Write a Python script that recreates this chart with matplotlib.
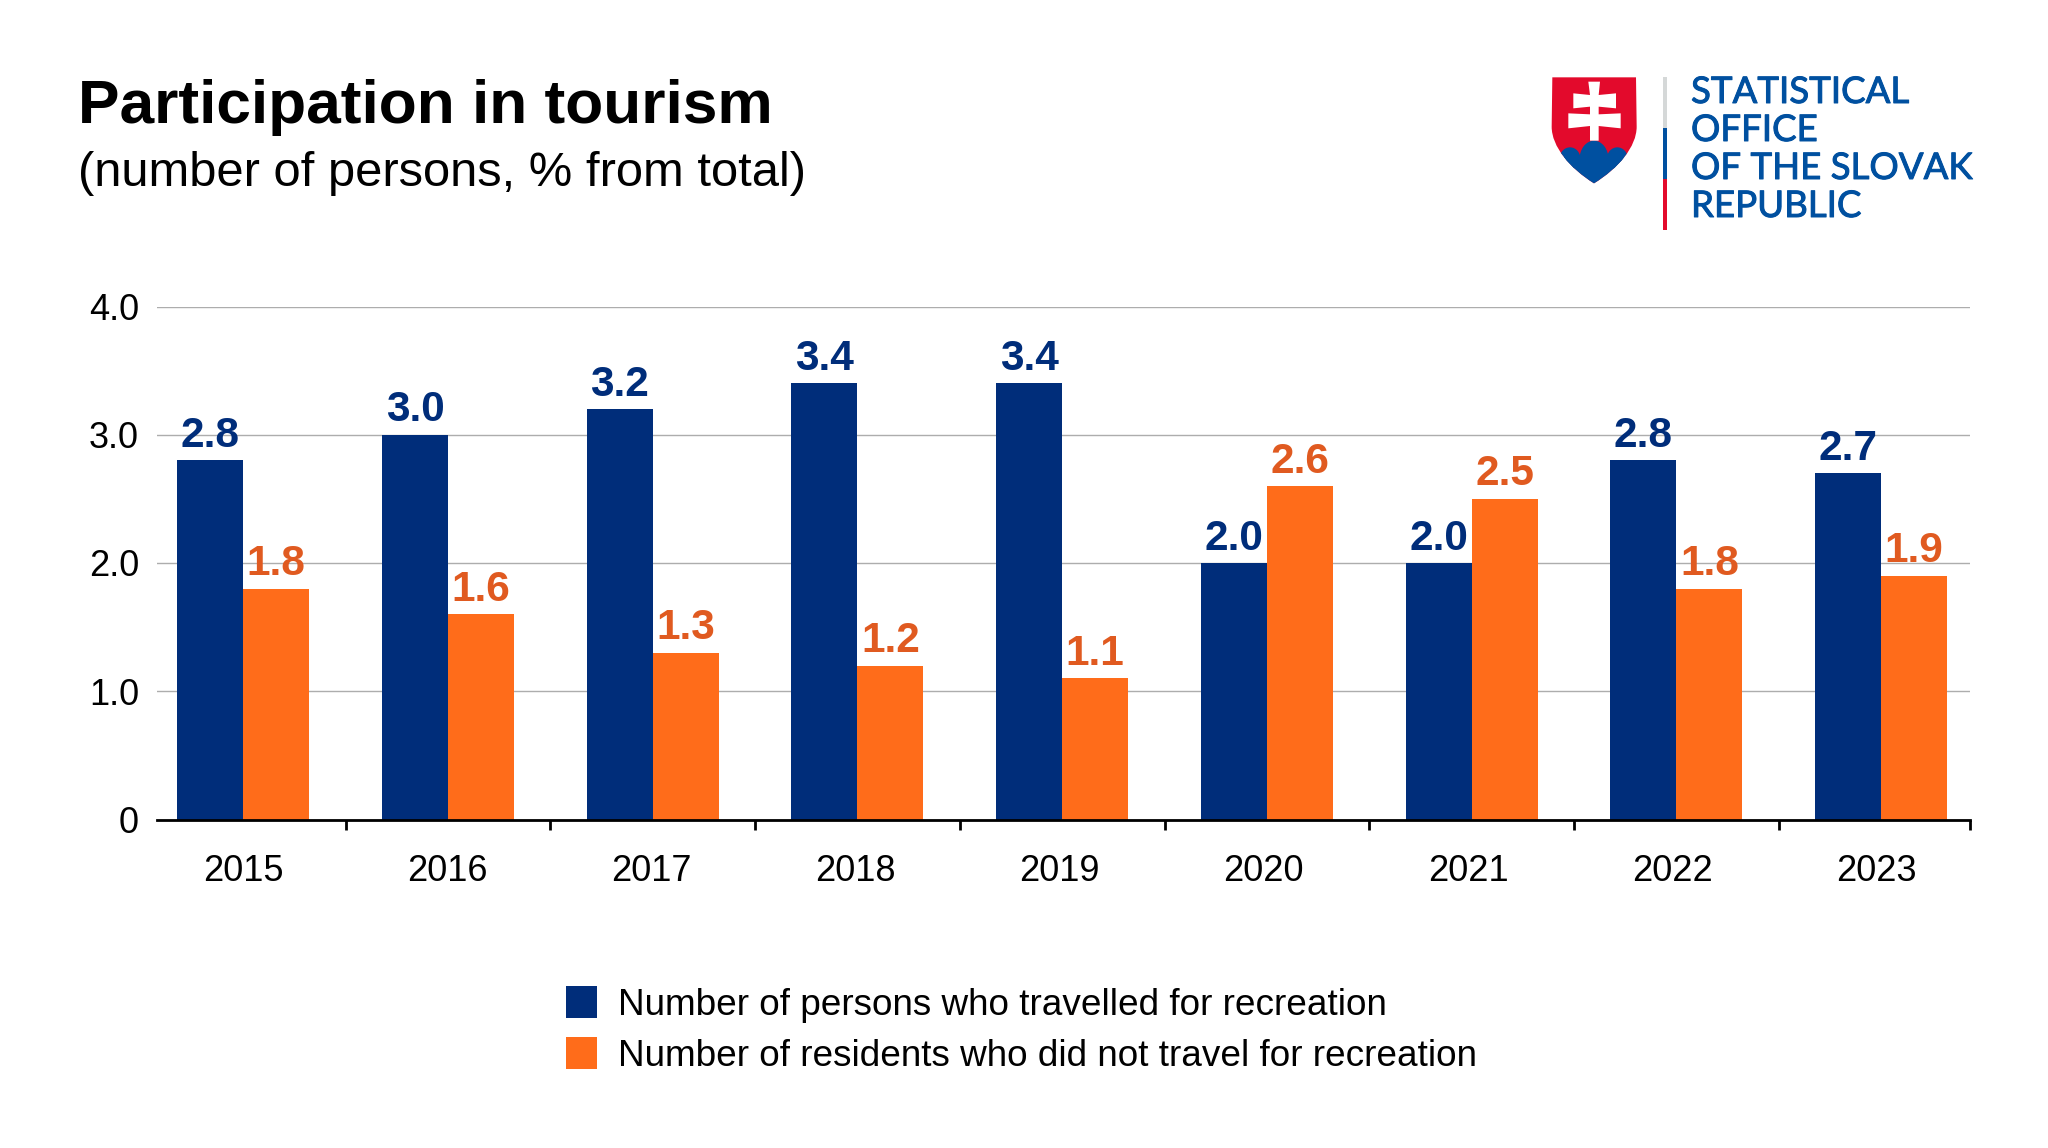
import numpy as np
import matplotlib
matplotlib.use("Agg")
import matplotlib.pyplot as plt
import matplotlib.patheffects as pe
from matplotlib.patches import Polygon, Rectangle, Ellipse, PathPatch
from matplotlib.path import Path

plt.rcParams["font.family"] = "Liberation Sans"

years = ['2015', '2016', '2017', '2018', '2019', '2020', '2021', '2022', '2023']
travelled = [2.8, 3.0, 3.2, 3.4, 3.4, 2.0, 2.0, 2.8, 2.7]
not_travelled = [1.8, 1.6, 1.3, 1.2, 1.1, 2.6, 2.5, 1.8, 1.9]
yticks = [0, 1, 2, 3, 4]
yticklabels = ['0', '1.0', '2.0', '3.0', '4.0']
label_travelled = 'Number of persons who travelled for recreation'
label_not = 'Number of residents who did not travel for recreation'
logo_lines = ['STATISTICAL', 'OFFICE', 'OF THE SLOVAK', 'REPUBLIC']

W, H = 2048, 1148
fig = plt.figure(figsize=(W / 100, H / 100), dpi=100)
ax = fig.add_axes([157 / W, 1 - 819.5 / H, (1970 - 157) / W, (819.5 - 306.5) / H])

x = np.arange(len(years))
width = 0.322
ax.bar(x - width / 2, travelled, width, color='#002d7a', label=label_travelled)
ax.bar(x + width / 2, not_travelled, width, color='#ff6c1a', label=label_not)

for i in x:
    ax.text(i - width / 2, travelled[i] + 0.035, f'{travelled[i]:.1f}', ha='center', va='bottom',
            fontsize=30.5, fontweight='bold', color='#002d7a')
    ax.text(i + width / 2, not_travelled[i] + 0.035, f'{not_travelled[i]:.1f}', ha='center', va='bottom',
            fontsize=30.5, fontweight='bold', color='#e05a20')

# the axis stops short of a full category on both ends
x_end = len(years) - 1 + 0.434
ax.set_xlim(-0.421, x_end)
ax.set_ylim(0, 4)
ax.set_yticks(yticks)
ax.set_yticklabels(yticklabels, fontsize=26)
ax.set_xticks(x * 0.997)
ax.set_xticklabels(years, fontsize=26)
ax.set_xticks(list(np.arange(len(years) - 1) + 0.5) + [x_end], minor=True)
ax.tick_params(axis='x', which='major', length=0, pad=25)
ax.tick_params(axis='x', which='minor', length=7, width=2, direction='out')
ax.tick_params(axis='y', length=0, pad=13)
ax.grid(axis='y', color='#adadad', linewidth=1)
ax.set_axisbelow(True)
for s in ['top', 'right', 'left']:
    ax.spines[s].set_visible(False)
ax.spines['bottom'].set_linewidth(2)

fig.text(78 / W, 1 - 107 / H, 'Participation in tourism', fontsize=44.8, fontweight='bold', va='center', color='black')
fig.text(78 / W, 1 - 173 / H, '(number of persons, % from total)', fontsize=35.2, va='center', color='black')

fig.legend(loc='upper left', bbox_to_anchor=(565.5 / W, 1 - 986 / H), frameon=False, fontsize=26.6,
           handlelength=0.84, handleheight=0.95, handletextpad=0.57, labelspacing=0.39, borderpad=0, borderaxespad=0)

# logo, overlay axes in pixel coordinates
lg = fig.add_axes([0, 0, 1, 1])
lg.set_xlim(0, W)
lg.set_ylim(H, 0)
lg.axis('off')


def zp(pts):
    # points measured on the 3x crop of the logo
    return [(1520 + a / 3, 50 + b / 3) for a, b in pts]


shield = Path(zp([(97, 82), (348, 82), (350, 230), (350, 290), (295, 355), (222, 400), (150, 355), (95, 290), (95, 230), (97, 82)]),
              [Path.MOVETO, Path.LINETO, Path.LINETO, Path.CURVE4, Path.CURVE4, Path.CURVE4, Path.CURVE4, Path.CURVE4, Path.CURVE4, Path.LINETO])
shield_patch = PathPatch(shield, facecolor='#e30a2c', lw=0)
lg.add_patch(shield_patch)
hills = [((150, 325), 62, 66), ((222, 330), 88, 116), ((292, 325), 62, 66)]
for (cx, cy), w, h in hills:
    (px, py), = zp([(cx, cy)])
    e = Ellipse((px, py), w / 3, h / 3, color='#0050a0', lw=0)
    lg.add_patch(e)
    e.set_clip_path(shield_patch)
low = Polygon(zp([(115, 322), (335, 322), (335, 410), (115, 410)]), closed=True, color='#0050a0', lw=0)
lg.add_patch(low)
low.set_clip_path(shield_patch)
cross = [(205, 95), (240, 95), (236, 135), (288, 130), (288, 175), (236, 170), (236, 193), (302, 190), (302, 235),
         (236, 228), (236, 272), (210, 272), (210, 228), (145, 235), (145, 190), (210, 193), (210, 170), (160, 175),
         (160, 130), (210, 135)]
lg.add_patch(Polygon(zp(cross), closed=True, color='white', lw=0))
lg.add_patch(Rectangle((1662.5, 77), 4, 51, color='#d5d8d8', lw=0))
lg.add_patch(Rectangle((1662.5, 128), 4, 51, color='#0050a0', lw=0))
lg.add_patch(Rectangle((1662.5, 179), 4, 51, color='#e30a2c', lw=0))
for i, line in enumerate(logo_lines):
    lg.text(1691, 103 + i * 38, line, fontsize=26.4, color='#0050a0', va='baseline', family='Lato',
            path_effects=[pe.withStroke(linewidth=0.7, foreground='#0050a0')])

fig.savefig('out.png', dpi=100, facecolor='white')
